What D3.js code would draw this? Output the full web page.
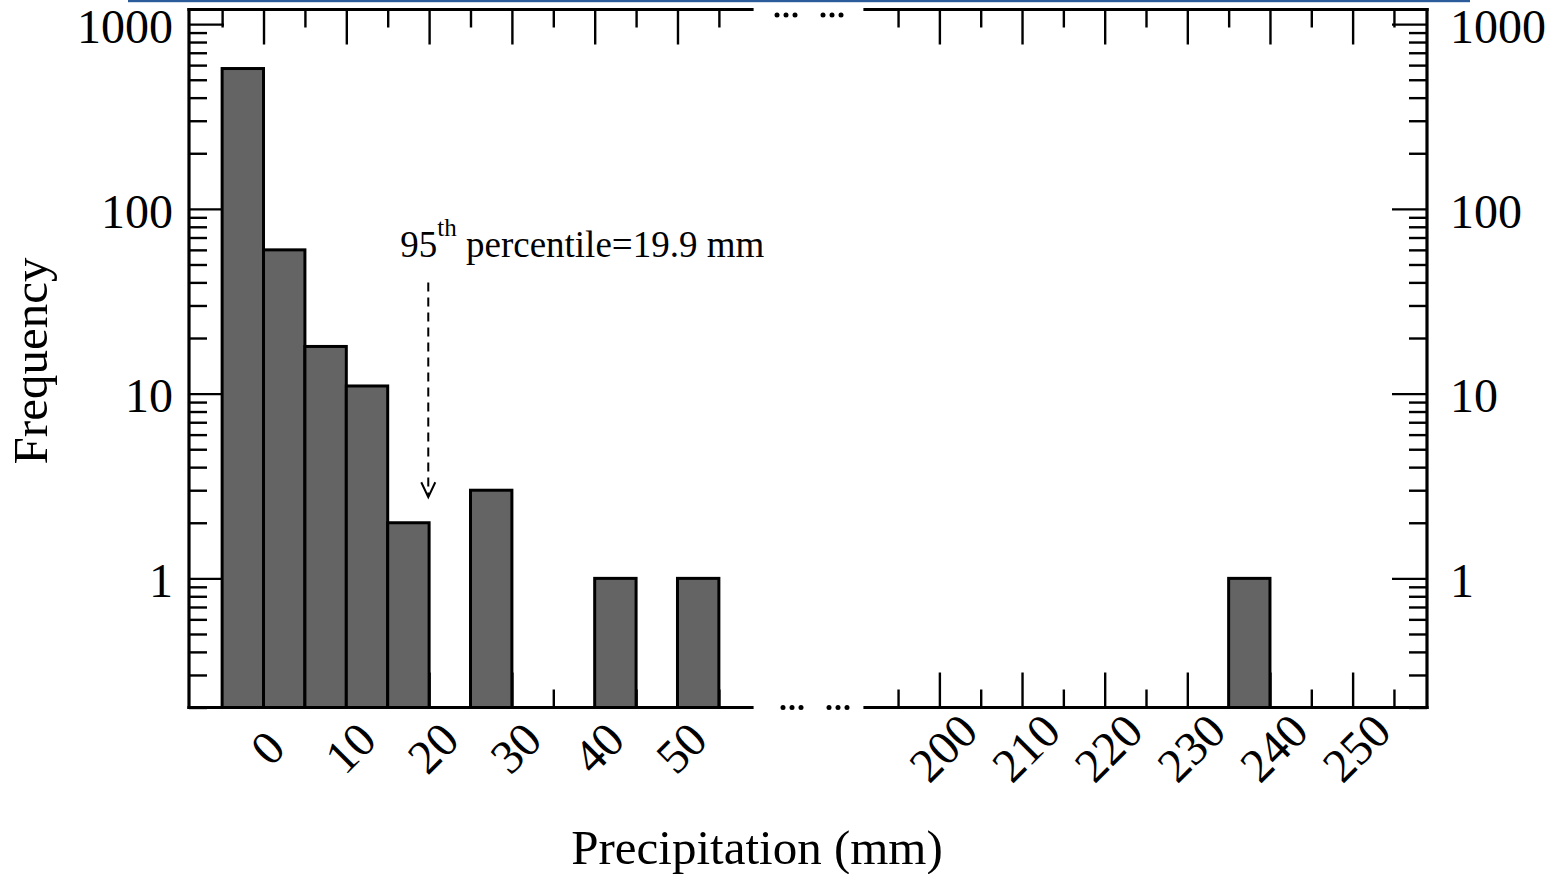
<!DOCTYPE html>
<html>
<head>
<meta charset="utf-8">
<script src="https://cdn.jsdelivr.net/npm/d3@7"></script>
<style>
  html, body { margin: 0; padding: 0; background: #fff; }
  svg { display: block; }
</style>
</head>
<body>
<svg id="chart" width="1547" height="874"></svg>
<script>
// Histogram of daily precipitation with a broken x axis, log-scale frequency.

const binStart = [-5, 0, 5, 10, 15, 25, 40, 50, 235];
const binCount = [575, 60, 18, 11, 2, 3, 1, 1, 1];
const BIN_W = 5;

const leftDomain = [-9, 59];
const rightDomain = [191, 259];
const leftTicks = [0, 10, 20, 30, 40, 50];
const leftMinor = [-5, 5, 15, 25, 35, 45, 55];
const rightTicks = [200, 210, 220, 230, 240, 250];
const rightMinor = [195, 205, 215, 225, 235, 245, 255];

const yDomain = [0.2, 1200];
const yTicks = [1, 10, 100, 1000];

const P95 = 19.9;
const arrowFrom = 40, arrowTo = 2.75;

const W = 1547, H = 874;
const L = 189, R = 1427, T = 9.5, B = 707.5;
const GAP_L = 752, GAP_R = 865;
const MAJ = 35, MIN = 18;
const FONT = "'Liberation Serif','Times New Roman',Times,serif";

const svg = d3.select("#chart");

// thin blue rule left over from the page header
svg.append("rect").attr("x", 128).attr("y", 0).attr("width", 1342).attr("height", 2.2)
  .attr("fill", "#2c5b9c");

const xl = d3.scaleLinear().domain(leftDomain).range([L, GAP_L]);
const xr = d3.scaleLinear().domain(rightDomain).range([GAP_R, R]);
const y = d3.scaleLog().domain(yDomain).range([B, T]);

function styleAxis(g, w) {
  g.select(".domain").remove();
  g.selectAll(".tick line").attr("stroke", "#000").attr("stroke-width", w);
}

// x axes, both segments, bottom and top, ticks pointing inward
[[xl, leftTicks, leftMinor], [xr, rightTicks, rightMinor]].forEach(([sx, maj, min]) => {
  svg.append("g").attr("transform", `translate(0,${B})`)
    .call(d3.axisBottom(sx).tickValues(min).tickSize(-MIN).tickFormat(""))
    .call(styleAxis, 2.4);
  svg.append("g").attr("transform", `translate(0,${T})`)
    .call(d3.axisTop(sx).tickValues(min).tickSize(-MIN).tickFormat(""))
    .call(styleAxis, 2.4);
  svg.append("g").attr("transform", `translate(0,${T})`)
    .call(d3.axisTop(sx).tickValues(maj).tickSize(-MAJ).tickFormat(""))
    .call(styleAxis, 2.4);
  const bx = svg.append("g").attr("transform", `translate(0,${B})`)
    .call(d3.axisBottom(sx).tickValues(maj).tickSize(-MAJ).tickFormat(d3.format("d")))
    .call(styleAxis, 2.4);
  bx.selectAll(".tick text")
    .attr("y", 0).attr("dy", "0.35em")
    .attr("text-anchor", "middle")
    .attr("transform", "translate(3,40) rotate(-45)")
    .style("font", `48px ${FONT}`).attr("fill", "#000");
});

// y axes, both sides
const yMinor = y.ticks().filter((v) => !yTicks.includes(v));
function yAxis(gen, x, pad) {
  svg.append("g").attr("transform", `translate(${x},0)`)
    .call(gen(y).tickValues(yMinor).tickSize(-MIN).tickFormat(""))
    .call(styleAxis, 2.4);
  const g = svg.append("g").attr("transform", `translate(${x},0)`)
    .call(gen(y).tickValues(yTicks).tickSize(-MAJ).tickPadding(pad).tickFormat(d3.format("d")))
    .call(styleAxis, 2.4);
  g.selectAll(".tick text").attr("dy", "0.38em")
    .style("font", `48px ${FONT}`).attr("fill", "#000");
}
yAxis(d3.axisLeft, L, 16);
yAxis(d3.axisRight, R, 23);

// bars
const bins = binStart.map((s, i) => ({ s, n: binCount[i] }));
const sxFor = (d) => (d.s >= rightDomain[0] ? xr : xl);
svg.append("g").selectAll("rect").data(bins).join("rect")
  .attr("x", (d) => sxFor(d)(d.s))
  .attr("width", (d) => sxFor(d)(d.s + BIN_W) - sxFor(d)(d.s))
  .attr("y", (d) => y(d.n))
  .attr("height", (d) => B - y(d.n))
  .attr("fill", "#646464").attr("stroke", "#000").attr("stroke-width", 3);

// frame lines
const frame = svg.append("g").attr("stroke", "#000").attr("stroke-width", 3.2).attr("stroke-linecap", "square");
[[L, GAP_L], [GAP_R, R]].forEach(([a, b]) => {
  frame.append("line").attr("x1", a).attr("x2", b).attr("y1", B).attr("y2", B);
  frame.append("line").attr("x1", a).attr("x2", b).attr("y1", T).attr("y2", T);
});
frame.append("line").attr("x1", L).attr("x2", L).attr("y1", T).attr("y2", B);
frame.append("line").attr("x1", R).attr("x2", R).attr("y1", T).attr("y2", B);

// break marks
const dots = svg.append("g").attr("fill", "#000");
[[25, 15], [31, B]].forEach(([off, yy]) => {
  [0, 9, 18, 46, 55, 64].forEach((dx) => {
    dots.append("circle").attr("cx", GAP_L + off + dx).attr("cy", yy).attr("r", 2.5);
  });
});

// 95th percentile annotation
const ax = xl(P95);
svg.append("line")
  .attr("x1", ax).attr("x2", ax)
  .attr("y1", y(arrowFrom)).attr("y2", y(arrowTo) - 1)
  .attr("stroke", "#000").attr("stroke-width", 2).attr("stroke-dasharray", "9,6");
svg.append("path")
  .attr("d", `M${ax - 7},${y(arrowTo) - 15}L${ax},${y(arrowTo)}L${ax + 7},${y(arrowTo) - 15}`)
  .attr("fill", "none").attr("stroke", "#000").attr("stroke-width", 2);

const ann = svg.append("text").attr("x", ax - 28).attr("y", y(arrowFrom) - 25)
  .style("font", `37px ${FONT}`).attr("fill", "#000");
ann.append("tspan").text("95");
ann.append("tspan").attr("dy", -21).style("font-size", "25px").text("th");
ann.append("tspan").attr("dy", 21).text(" percentile=19.9 mm");

// axis titles
svg.append("text").attr("x", 757).attr("y", 864).attr("text-anchor", "middle")
  .style("font", `49px ${FONT}`).attr("fill", "#000").text("Precipitation (mm)");
svg.append("text").attr("transform", "translate(47,361) rotate(-90)").attr("text-anchor", "middle")
  .style("font", `49px ${FONT}`).attr("fill", "#000").text("Frequency");
</script>
</body>
</html>
